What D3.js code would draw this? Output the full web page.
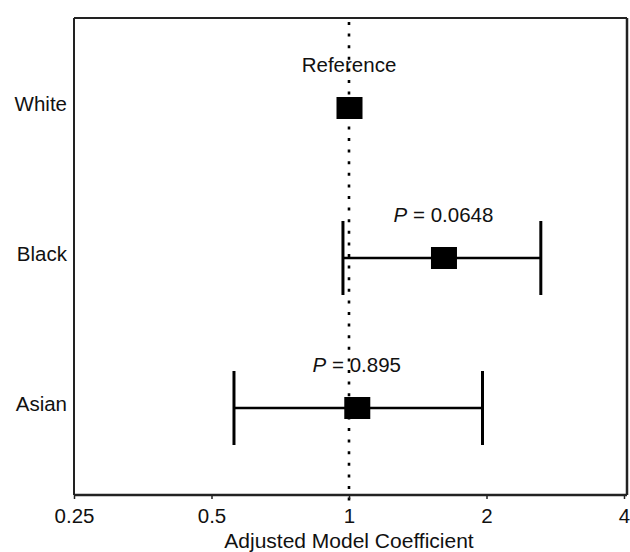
<!DOCTYPE html>
<html>
<head>
<meta charset="utf-8">
<script src="https://cdn.jsdelivr.net/npm/d3@7"></script>
<style>
  html, body { margin: 0; padding: 0; background: #fff; }
  svg { display: block; font-family: "Liberation Sans", Arial, Helvetica, sans-serif; }
</style>
</head>
<body>
<svg id="chart" width="630" height="552"></svg>
<script>
// ---- data ----
const categories = ["White", "Black", "Asian"];
const estimates = [1, 1.61, 1.04];
const lowerCI = [null, 0.97, 0.56];
const upperCI = [null, 2.63, 1.96];
const referenceLabel = "Reference";
const pValues = [null, "0.0648", "0.895"];
const xTicks = [0.25, 0.5, 1, 2, 4];
const xTickLabels = ["0.25", "0.5", "1", "2", "4"];
const xTitle = "Adjusted Model Coefficient";

// ---- layout ----
const frame = { left: 74, right: 627, top: 18, bottom: 495 };
const svg = d3.select("#chart");

const x = d3.scaleLog().base(2).domain([0.25, 4]).range([74, 624]);
const y = d3.scalePoint().domain(categories).range([108, 408]).padding(0);

const fontSize = 20.5;

// frame
svg.append("line").attr("x1", frame.left).attr("x2", frame.right)
  .attr("y1", frame.top).attr("y2", frame.top)
  .attr("stroke", "#222").attr("stroke-width", 2);
svg.append("line").attr("x1", frame.left).attr("x2", frame.left)
  .attr("y1", frame.top).attr("y2", frame.bottom)
  .attr("stroke", "#222").attr("stroke-width", 2);
svg.append("line").attr("x1", frame.right).attr("x2", frame.right)
  .attr("y1", frame.top).attr("y2", frame.bottom)
  .attr("stroke", "#222").attr("stroke-width", 2.5);

// reference dotted line
svg.append("line")
  .attr("x1", x(1)).attr("x2", x(1))
  .attr("y1", frame.top + 4).attr("y2", 509)
  .attr("stroke", "#000").attr("stroke-width", 2.6)
  .attr("stroke-dasharray", "3 8.6");

// bottom axis
const axis = d3.axisBottom(x)
  .tickValues(xTicks)
  .tickFormat((d, i) => xTickLabels[i])
  .tickSize(4)
  .tickSizeOuter(0)
  .tickPadding(9.5);
const gx = svg.append("g").attr("transform", `translate(0,${frame.bottom})`).call(axis);
gx.select(".domain").attr("d", `M${frame.left},0H${frame.right}`)
  .attr("stroke", "#222").attr("stroke-width", 2.5);
gx.selectAll(".tick line").attr("stroke", "#222").attr("stroke-width", 1.5);
gx.selectAll(".tick text")
  .attr("font-size", fontSize)
  .attr("font-family", "'Liberation Sans', Arial, sans-serif")
  .attr("fill", "#111");

svg.append("text")
  .attr("x", (x(0.25) + x(4)) / 2).attr("y", 547.5)
  .attr("text-anchor", "middle")
  .attr("font-size", 21)
  .attr("fill", "#111")
  .text(xTitle);

// y labels
svg.selectAll(".ylab").data(categories).enter().append("text")
  .attr("class", "ylab")
  .attr("x", 67).attr("y", d => y(d) + 3)
  .attr("text-anchor", "end")
  .attr("font-size", fontSize)
  .attr("fill", "#111")
  .text(d => d);

// error bars
const rows = categories.map((c, i) => ({ c, est: estimates[i], lo: lowerCI[i], hi: upperCI[i], p: pValues[i] }));
const withCI = rows.filter(r => r.lo != null);
const capHalf = 37;

svg.selectAll(".ci").data(withCI).enter().append("line")
  .attr("x1", d => x(d.lo)).attr("x2", d => x(d.hi))
  .attr("y1", d => y(d.c)).attr("y2", d => y(d.c))
  .attr("stroke", "#000").attr("stroke-width", 2.6);
svg.selectAll(".capL").data(withCI).enter().append("line")
  .attr("x1", d => x(d.lo)).attr("x2", d => x(d.lo))
  .attr("y1", d => y(d.c) - capHalf).attr("y2", d => y(d.c) + capHalf)
  .attr("stroke", "#000").attr("stroke-width", 3);
svg.selectAll(".capR").data(withCI).enter().append("line")
  .attr("x1", d => x(d.hi)).attr("x2", d => x(d.hi))
  .attr("y1", d => y(d.c) - capHalf).attr("y2", d => y(d.c) + capHalf)
  .attr("stroke", "#000").attr("stroke-width", 3);

// points
const sqW = 26, sqH = 22;
svg.selectAll(".pt").data(rows).enter().append("rect")
  .attr("x", d => x(d.est) - sqW / 2 + 0.5).attr("y", d => y(d.c) - sqH / 2)
  .attr("width", sqW).attr("height", sqH)
  .attr("fill", "#000");

// annotations
rows.forEach(r => {
  const t = svg.append("text")
    .attr("x", x(r.est)).attr("y", y(r.c) - 36)
    .attr("text-anchor", "middle")
    .attr("font-size", fontSize)
    .attr("fill", "#111");
  if (r.p == null) {
    t.text(referenceLabel);
  } else {
    t.append("tspan").attr("font-style", "italic").text("P");
    t.append("tspan").text(" = " + r.p);
  }
});
</script>
</body>
</html>
